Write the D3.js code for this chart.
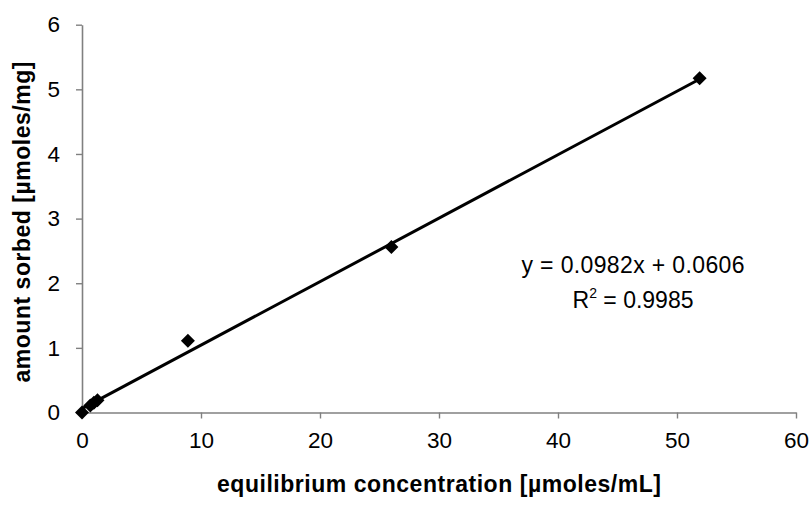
<!DOCTYPE html>
<html><head><meta charset="utf-8">
<script src="https://cdnjs.cloudflare.com/ajax/libs/d3/7.8.5/d3.min.js"></script>
<style>body{margin:0;background:#fff}svg{display:block}text{font-family:"Liberation Sans",Arial,sans-serif}</style>
</head><body><svg id="c" width="812" height="505"></svg>
<script>
const xValues = [0, 0.7, 1.0, 1.3, 8.9, 26.0, 51.9];
const yValues = [0, 0.11, 0.15, 0.19, 1.11, 2.56, 5.17];
const xTicks = [0, 10, 20, 30, 40, 50, 60];
const yTicks = [0, 1, 2, 3, 4, 5, 6];
const slope = 0.0982, intercept = 0.0606;
const trendRange = [0, 52];
const xTitle = "equilibrium concentration [µmoles/mL]";
const yTitle = "amount sorbed [µmoles/mg]";
const eqText = "y = 0.0982x + 0.0606";
const r2Text = "= 0.9985";

const svg = d3.select("#c");
const x = d3.scaleLinear().domain([0, 60]).range([82, 796]);
const y = d3.scaleLinear().domain([0, 6]).range([412.5, 24.7]);
const axisColor = "#808080";

const gx = svg.append("g").attr("transform", `translate(0,${y(0)})`)
  .call(d3.axisBottom(x).tickValues(xTicks).tickFormat(d3.format("d")).tickSize(6).tickSizeOuter(0).tickPadding(14));
const gy = svg.append("g").attr("transform", `translate(${x(0)},0)`)
  .call(d3.axisLeft(y).tickValues(yTicks).tickFormat(d3.format("d")).tickSize(6).tickSizeOuter(0).tickPadding(16));
[gx, gy].forEach(g => {
  g.select(".domain").attr("stroke", axisColor).attr("stroke-width", 1.6);
  g.selectAll(".tick line").attr("stroke", axisColor).attr("stroke-width", 1.4);
  g.selectAll(".tick text").attr("fill", "#000").style("font-size", "22.5px");
});

// trendline
svg.append("line")
  .attr("x1", x(trendRange[0])).attr("y1", y(slope * trendRange[0] + intercept))
  .attr("x2", x(trendRange[1])).attr("y2", y(slope * trendRange[1] + intercept))
  .attr("stroke", "#000").attr("stroke-width", 3);

// markers
const pts = xValues.map((v, i) => [v, yValues[i]]);
svg.append("g").selectAll("path").data(pts).join("path")
  .attr("transform", d => `translate(${x(d[0])},${y(d[1])})`)
  .attr("d", "M0,-7L7,0L0,7L-7,0Z").attr("fill", "#000");

// titles
svg.append("text").attr("x", (x(0) + x(60)) / 2).attr("y", 492)
  .attr("text-anchor", "middle").style("font-size", "23px").style("font-weight", "bold")
  .attr("textLength", 444).attr("lengthAdjust", "spacing").text(xTitle);
svg.append("text").attr("transform", `translate(30,222) rotate(-90)`)
  .attr("text-anchor", "middle").style("font-size", "23px").style("font-weight", "bold")
  .attr("textLength", 321).attr("lengthAdjust", "spacing").text(yTitle);

// equation
svg.append("text").attr("x", 633).attr("y", 273).attr("text-anchor", "middle")
  .style("font-size", "23px").attr("textLength", 223).attr("lengthAdjust", "spacing").text(eqText);
const r2 = svg.append("text").attr("x", 633).attr("y", 308).attr("text-anchor", "middle").style("font-size", "23px");
r2.append("tspan").text("R");
r2.append("tspan").attr("dy", -10).style("font-size", "14px").text("2");
r2.append("tspan").attr("dy", 10).text(" " + r2Text);
</script></body></html>
